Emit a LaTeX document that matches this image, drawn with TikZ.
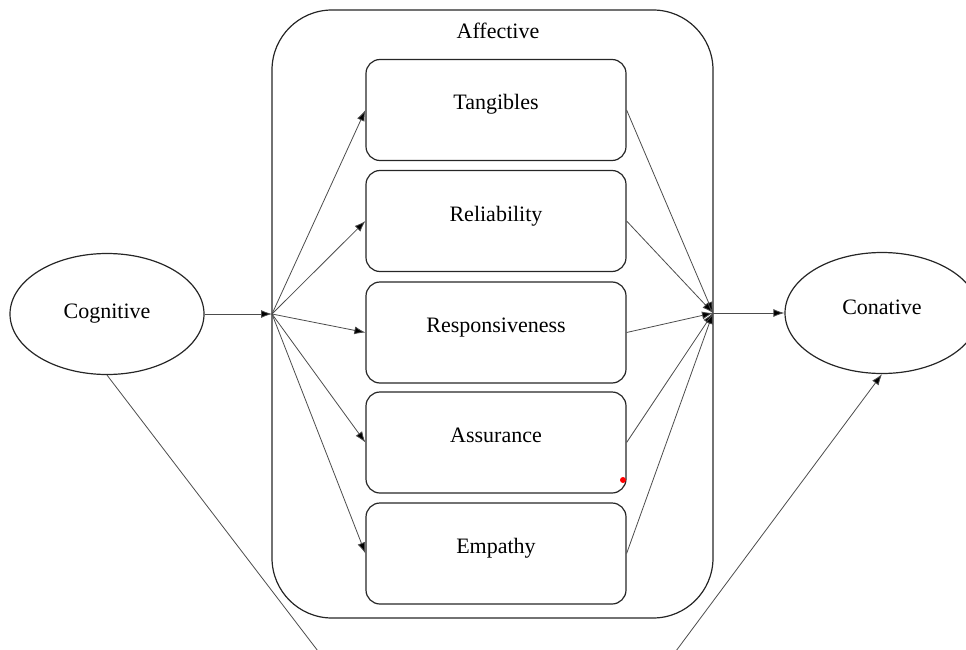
\documentclass[tikz,border=0pt]{standalone}
\usepackage{fontspec}
\setmainfont{Liberation Serif}
\usetikzlibrary{arrows.meta,shapes.geometric}
\begin{document}
\begin{tikzpicture}[x=1pt, y=-1pt,
    dim/.style={rectangle, rounded corners=14pt, draw=black!85, line width=1.2pt, minimum width=260pt, minimum height=101pt, font=\fontsize{22}{26}\selectfont, text height=17pt, text depth=17pt},
    attitude/.style={ellipse, draw=black!85, line width=1.2pt, minimum width=194pt, minimum height=121pt, font=\fontsize{22}{26}\selectfont},
    link/.style={draw=black!70, line width=0.8pt, -{Latex[length=11pt,width=8pt,fill=black]}}
]
    \useasboundingbox (0,0) rectangle (966,650);
    \clip (0,0) rectangle (966,650);

    % Affective frame
    \node[rectangle, rounded corners=60pt, draw=black!85, line width=1.2pt, minimum width=441pt, minimum height=608pt] (affective) at (492.5,314) {};
    \node[font=\fontsize{22}{26}\selectfont] (afflabel) at (498,31) {Affective};

    % Service quality dimensions
    \node[dim] (tang) at (496,110) {Tangibles};
    \node[dim] (reli) at (496,221) {Reliability};
    \node[dim] (resp) at (496,332.5) {Responsiveness};
    \node[dim] (assu) at (496,442.5) {Assurance};
    \node[dim] (empa) at (496,553.5) {Empathy};
    \fill[red] (623,480) circle (3pt);

    % Cognitive and conative
    \node[attitude] (cogn) at (107,314) {Cognitive};
    \node[attitude] (cona) at (882,313) {};
    \node[font=\fontsize{22}{26}\selectfont] (conalabel) at (882,307) {Conative};
    \coordinate (fanL) at (272,314);
    \coordinate (fanR) at (713,313);
    \coordinate (lowL) at (321,655);
    \coordinate (lowR) at (673,655);

    % Arrows into the frame
    \draw[link] (cogn.east) -- (fanL);
    \foreach \d in {tang,reli,resp,assu,empa}
        \draw[link] (fanL) -- (\d.west);

    % Arrows out of the frame
    \foreach \d in {tang,reli,resp,assu,empa}
        \draw[link] (\d.east) -- (fanR);
    \draw[link] (fanR) -- (cona.west);

    % Lines leaving the picture
    \draw[draw=black!70, line width=0.8pt] (cogn.south) -- (lowL);
    \draw[link] (lowR) -- (cona.south);
\end{tikzpicture}
\end{document}
